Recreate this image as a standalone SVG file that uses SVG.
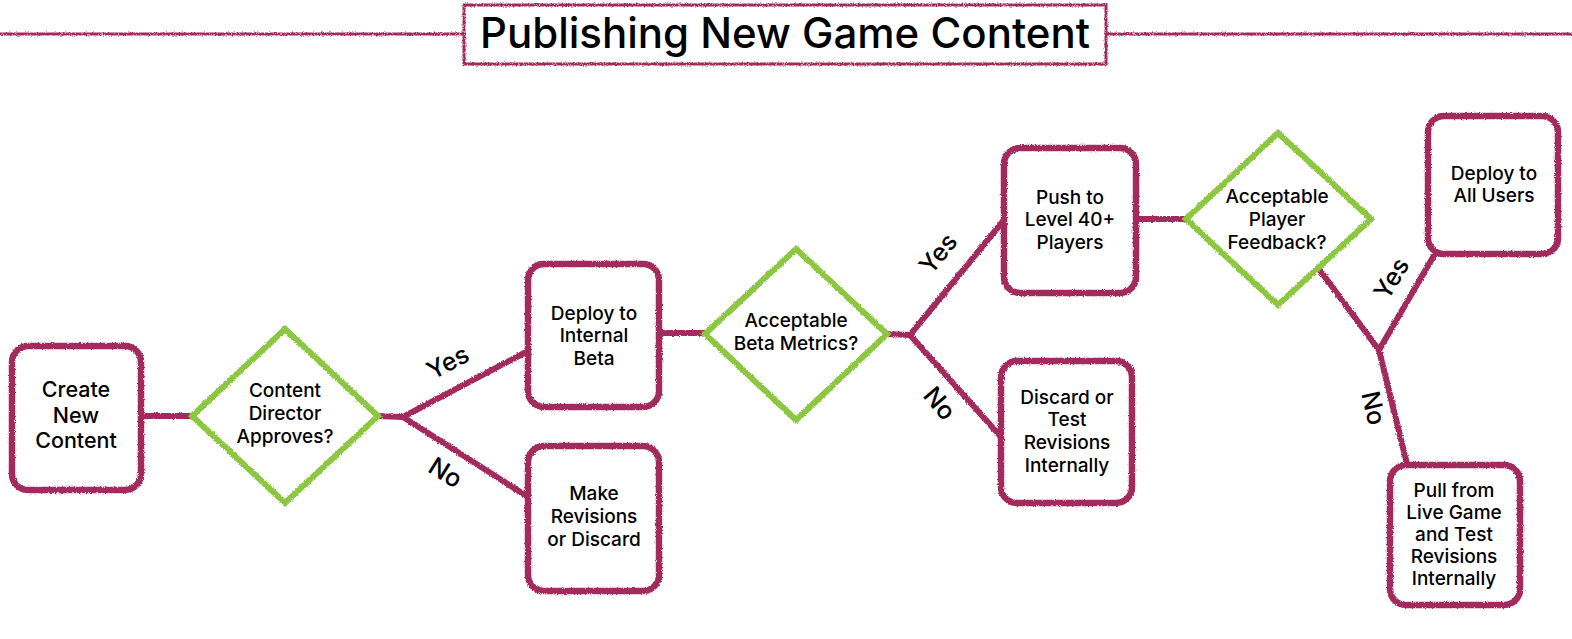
<svg xmlns="http://www.w3.org/2000/svg" width="1572" height="639" viewBox="0 0 1572 639">
<defs>
<filter id="chalk" filterUnits="userSpaceOnUse" x="0" y="0" width="1572" height="639">
<feTurbulence type="fractalNoise" baseFrequency="0.9" numOctaves="2" seed="3" result="n"/>
<feDisplacementMap in="SourceGraphic" in2="n" scale="3" xChannelSelector="R" yChannelSelector="G"/>
</filter>
</defs>
<style>
.box{fill:#fff;stroke:#A22C5B;stroke-width:6.5;filter:url(#chalk)}
.dia{fill:#fff;stroke:#8DC63F;stroke-width:6;stroke-linejoin:miter;filter:url(#chalk)}
.con{fill:none;stroke:#A22C5B;stroke-width:6;stroke-linecap:butt;filter:url(#chalk)}
.t{font-family:Inter,"Open Sans",sans-serif;font-size:19px;font-weight:500;fill:#000;text-anchor:middle}
.big{font-size:21.5px}
.lab{font-family:Inter,"Open Sans",sans-serif;font-size:25px;font-weight:500;fill:#000;text-anchor:middle}
.title{font-family:Inter,"Open Sans",sans-serif;font-size:42px;font-weight:500;fill:#000;text-anchor:middle}
</style>
<rect width="1572" height="639" fill="#fff"/>

<g id="title">
<line x1="0" y1="34" x2="464" y2="34" stroke="#A22C5B" stroke-width="3" filter="url(#chalk)"/>
<line x1="1106" y1="34" x2="1572" y2="34" stroke="#A22C5B" stroke-width="3" filter="url(#chalk)"/>
<rect x="464" y="5" width="642" height="59" fill="#fff" stroke="#A22C5B" stroke-width="3" filter="url(#chalk)"/>
<text class="title" x="785" y="48">Publishing New Game Content</text>
</g>

<g id="connectors">
<line class="con" x1="140" y1="416" x2="193" y2="416"/>
<polyline class="con" points="377,416 403,417 528,351"/>
<line class="con" x1="403" y1="417" x2="528" y2="497"/>
<line class="con" x1="659" y1="333" x2="705" y2="333"/>
<polyline class="con" points="886,334 910,335 1004,220"/>
<line class="con" x1="910" y1="335" x2="1002" y2="438"/>
<line class="con" x1="1137" y1="219" x2="1188" y2="219"/>
<polyline class="con" points="1316,265 1379,350 1436,252"/>
<line class="con" x1="1379" y1="350" x2="1407" y2="464"/>
<text class="lab" transform="translate(452,370) rotate(-28)">Yes</text>
<text class="lab" transform="translate(441,480) rotate(32)">No</text>
<text class="lab" transform="translate(945,259) rotate(-51)">Yes</text>
<text class="lab" transform="translate(933,409) rotate(50)">No</text>
<text class="lab" transform="translate(1399,283) rotate(-59)">Yes</text>
<text class="lab" transform="translate(1365,410) rotate(77)">No</text>
</g>

<g id="n1">
<rect class="box" x="12" y="346" width="129" height="144" rx="16"/>
<text class="t big" x="76" y="397">Create</text>
<text class="t big" x="76" y="423">New</text>
<text class="t big" x="76" y="448">Content</text>
</g>

<g id="d1">
<polygon class="dia" points="285,329 378,416 285,503 192,416"/>
<text class="t" x="285" y="397">Content</text>
<text class="t" x="285" y="420">Director</text>
<text class="t" x="285" y="443">Approves?</text>
</g>

<g id="n2">
<rect class="box" x="528" y="264" width="131" height="143" rx="16"/>
<text class="t" x="594" y="320">Deploy to</text>
<text class="t" x="594" y="342">Internal</text>
<text class="t" x="594" y="365">Beta</text>
</g>

<g id="n3">
<rect class="box" x="528" y="446" width="131" height="145" rx="16"/>
<text class="t" x="594" y="500">Make</text>
<text class="t" x="594" y="523">Revisions</text>
<text class="t" x="594" y="546">or Discard</text>
</g>

<g id="d2">
<polygon class="dia" points="796,249 887,334 796,420 705,334"/>
<text class="t" x="796" y="327">Acceptable</text>
<text class="t" x="796" y="350">Beta Metrics?</text>
</g>

<g id="n4">
<rect class="box" x="1004" y="148" width="132" height="145" rx="16"/>
<text class="t" x="1070" y="204">Push to</text>
<text class="t" x="1070" y="226">Level 40+</text>
<text class="t" x="1070" y="249">Players</text>
</g>

<g id="n5">
<rect class="box" x="1001" y="361" width="131" height="142" rx="16"/>
<text class="t" x="1067" y="404">Discard or</text>
<text class="t" x="1067" y="426">Test</text>
<text class="t" x="1067" y="449">Revisions</text>
<text class="t" x="1067" y="472">Internally</text>
</g>

<g id="d3">
<polygon class="dia" points="1278,133 1371,219 1278,305 1186,219"/>
<text class="t" x="1277" y="203">Acceptable</text>
<text class="t" x="1277" y="226">Player</text>
<text class="t" x="1277" y="249">Feedback?</text>
</g>

<g id="n6">
<rect class="box" x="1428" y="116" width="130" height="138" rx="16"/>
<text class="t" x="1494" y="180">Deploy to</text>
<text class="t" x="1494" y="202">All Users</text>
</g>

<g id="n7">
<rect class="box" x="1390" y="465" width="130" height="140" rx="16"/>
<text class="t" x="1454" y="497">Pull from</text>
<text class="t" x="1454" y="519">Live Game</text>
<text class="t" x="1454" y="541">and Test</text>
<text class="t" x="1454" y="563">Revisions</text>
<text class="t" x="1454" y="585">Internally</text>
</g>
</svg>
